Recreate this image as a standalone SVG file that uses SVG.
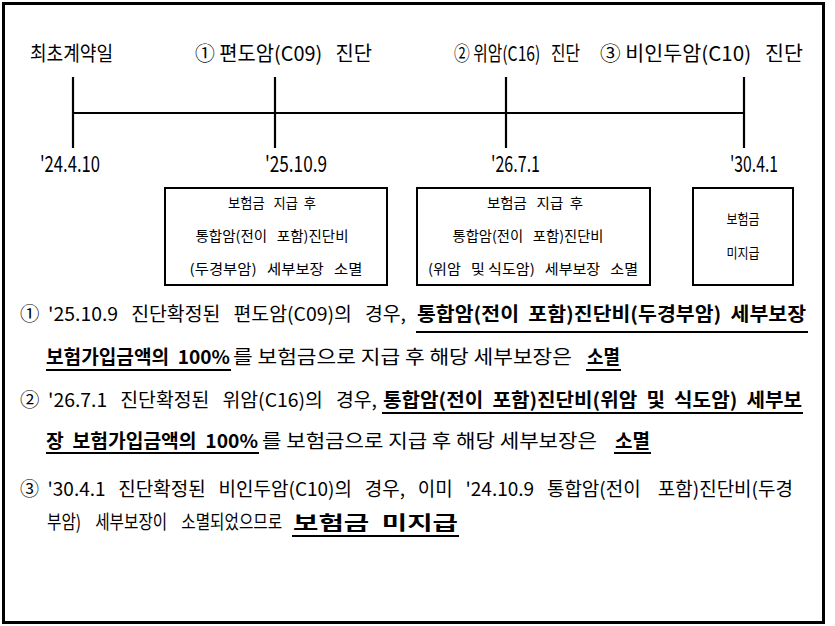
<svg xmlns="http://www.w3.org/2000/svg" width="835" height="626" viewBox="0 0 835 626">
<style>
text{font-family:"Noto Sans CJK KR","Noto Sans",sans-serif;fill:#000;white-space:pre;dominant-baseline:central}
.top{font-size:20px}
.date{font-size:22px}
.box{font-size:14px;text-anchor:middle}
.p{font-size:19px}
.b{font-size:19px;font-weight:bold}
.ln{stroke:#000;stroke-width:2.2;fill:none}
.bx{stroke:#000;stroke-width:2;fill:#fff}
.ul{stroke:#000;stroke-width:2}
</style>
<rect x="3.5" y="3.5" width="820" height="619" fill="#fff" stroke="#000" stroke-width="3"/>
<g id="connectors">
<line class="ln" x1="73" y1="113" x2="744" y2="113"/>
<line class="ln" x1="73" y1="77" x2="73" y2="148"/>
<line class="ln" x1="275" y1="77" x2="275" y2="148"/>
<line class="ln" x1="506" y1="77" x2="506" y2="148"/>
<line class="ln" x1="744" y1="77" x2="744" y2="148"/>
</g>
<g id="event-start">
<text class="top" x="30" y="52" textLength="83" lengthAdjust="spacingAndGlyphs">최초계약일</text>
<text class="date" x="40" y="162" textLength="60" lengthAdjust="spacingAndGlyphs">'24.4.10</text>
</g>
<g id="event-1">
<text class="top" x="195" y="52" textLength="177" lengthAdjust="spacingAndGlyphs">① 편도암(C09)   진단</text>
<text class="date" x="265" y="162" textLength="62" lengthAdjust="spacingAndGlyphs">'25.10.9</text>
</g>
<g id="event-2">
<text class="top" x="454" y="52" textLength="126" lengthAdjust="spacingAndGlyphs">② 위암(C16)   진단</text>
<text class="date" x="491" y="162" textLength="49" lengthAdjust="spacingAndGlyphs">'26.7.1</text>
</g>
<g id="event-3">
<text class="top" x="600" y="52" textLength="203" lengthAdjust="spacingAndGlyphs">③ 비인두암(C10)   진단</text>
<text class="date" x="730" y="162" textLength="48" lengthAdjust="spacingAndGlyphs">'30.4.1</text>
</g>
<g id="box-1">
<rect class="bx" x="165" y="188" width="222" height="97"/>
<text class="box" x="272" y="202" textLength="88" lengthAdjust="spacingAndGlyphs">보험금   지급  후</text>
<text class="box" x="272" y="235" textLength="153" lengthAdjust="spacingAndGlyphs">통합암(전이   포함)진단비</text>
<text class="box" x="276" y="268" textLength="173" lengthAdjust="spacingAndGlyphs">(두경부암)   세부보장   소멸</text>
</g>
<g id="box-2">
<rect class="bx" x="417" y="188" width="233" height="97"/>
<text class="box" x="535" y="202" textLength="96" lengthAdjust="spacingAndGlyphs">보험금   지급  후</text>
<text class="box" x="528" y="235" textLength="151" lengthAdjust="spacingAndGlyphs">통합암(전이   포함)진단비</text>
<text class="box" x="533" y="268" textLength="210" lengthAdjust="spacingAndGlyphs">(위암   및 식도암)   세부보장   소멸</text>
</g>
<g id="box-3">
<rect class="bx" x="693" y="188" width="100" height="97"/>
<text class="box" x="743" y="218" textLength="33" lengthAdjust="spacingAndGlyphs">보험금</text>
<text class="box" x="743" y="252" textLength="33" lengthAdjust="spacingAndGlyphs">미지급</text>
</g>
<g id="note-1">
<text class="p" x="20" y="312" textLength="386" lengthAdjust="spacingAndGlyphs">①  '25.10.9   진단확정된   편도암(C09)의   경우,</text>
<text class="b" x="417" y="312" textLength="389" lengthAdjust="spacingAndGlyphs">통합암(전이  포함)진단비(두경부암)  세부보장</text>
<line class="ul" x1="416" y1="332" x2="808" y2="332"/>
<text class="b" x="46" y="355" textLength="184" lengthAdjust="spacingAndGlyphs">보험가입금액의  100%</text>
<line class="ul" x1="46" y1="370" x2="231" y2="370"/>
<text class="p" x="233" y="355" textLength="339" lengthAdjust="spacingAndGlyphs">를 보험금으로 지급 후 해당 세부보장은</text>
<text class="b" x="587" y="355" textLength="33" lengthAdjust="spacingAndGlyphs">소멸</text>
<line class="ul" x1="586" y1="370" x2="621" y2="370"/>
</g>
<g id="note-2">
<text class="p" x="20" y="398" textLength="357" lengthAdjust="spacingAndGlyphs">②  '26.7.1   진단확정된   위암(C16)의   경우,</text>
<text class="b" x="383" y="398" textLength="419" lengthAdjust="spacingAndGlyphs">통합암(전이  포함)진단비(위암  및  식도암)  세부보</text>
<line class="ul" x1="382" y1="413" x2="803" y2="413"/>
<text class="b" x="46" y="439" textLength="212" lengthAdjust="spacingAndGlyphs">장  보험가입금액의  100%</text>
<line class="ul" x1="46" y1="453" x2="259" y2="453"/>
<text class="p" x="262" y="439" textLength="335" lengthAdjust="spacingAndGlyphs">를 보험금으로 지급 후 해당 세부보장은</text>
<text class="b" x="615" y="439" textLength="35" lengthAdjust="spacingAndGlyphs">소멸</text>
<line class="ul" x1="614" y1="453" x2="651" y2="453"/>
</g>
<g id="note-3">
<text class="p" x="20" y="487" textLength="773" lengthAdjust="spacingAndGlyphs">③  '30.4.1   진단확정된   비인두암(C10)의   경우,   이미   '24.10.9   통합암(전이    포함)진단비(두경</text>
<text class="p" transform="translate(47 521) scale(0.8 1)" x="0" y="0" textLength="294" lengthAdjust="spacingAndGlyphs">부암)    세부보장이    소멸되었으므로</text>
<text class="b" x="293" y="521" textLength="165" lengthAdjust="spacingAndGlyphs">보험금  미지급</text>
<line class="ul" x1="292" y1="536" x2="459" y2="536"/>
</g>
</svg>
